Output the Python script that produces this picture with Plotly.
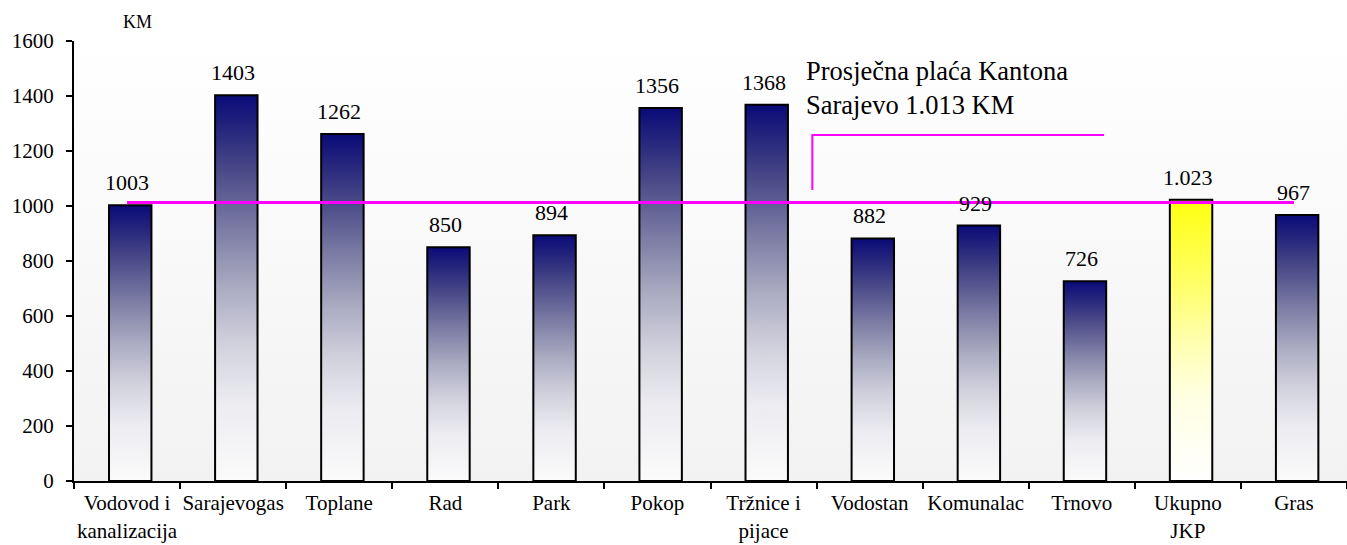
import plotly.graph_objects as go

# ---- data ----
categories = ["Vodovod i<br>kanalizacija", "Sarajevogas", "Toplane", "Rad", "Park", "Pokop",
              "Tržnice i<br>pijace", "Vodostan", "Komunalac", "Trnovo", "Ukupno<br>JKP", "Gras"]
values = [1003, 1403, 1262, 850, 894, 1356, 1368, 882, 929, 726, 1023, 967]
value_labels = ["1003", "1403", "1262", "850", "894", "1356", "1368", "882", "929", "726", "1.023", "967"]
highlight = ["Ukupno<br>JKP"]
average = 1013
average_text = "Prosječna plaća Kantona<br>Sarajevo 1.013 KM"
y_ticks = [0, 200, 400, 600, 800, 1000, 1200, 1400, 1600]
unit_label = "KM"

FONT = "'Liberation Serif', 'Times New Roman', 'DejaVu Serif', serif"
NAVY_SCALE = [[0, "#fbfbfb"], [0.2, "#ececf1"], [0.35, "#d2d2de"], [0.5, "#ababc2"],
              [0.65, "#7d7da5"], [0.8, "#4b4b89"], [0.9, "#2a2a7e"], [1, "#0a0a78"]]
YELLOW_SCALE = [[0, "#ffffff"], [0.3, "#ffffe2"], [0.5, "#ffffae"], [0.7, "#ffff68"], [1, "#ffff10"]]
MAGENTA = "#ff00ff"
half_w = 0.2
bar_shift = 0.03
n = len(categories)
xs = list(range(n))

fig = go.Figure()

# plot-area background gradient
fig.add_trace(go.Scatter(
    x=[-0.5, n - 0.5, n - 0.5, -0.5, -0.5], y=[0, 0, 1600, 1600, 0],
    mode="none", fill="toself",
    fillgradient=dict(type="vertical", colorscale=[[0, "#f2f2f2"], [1, "#ffffff"]], start=0, stop=1600),
    hoverinfo="skip", showlegend=False))

# bars with vertical gradient
for x, cat, v in zip(xs, categories, values):
    scale = YELLOW_SCALE if cat in highlight else NAVY_SCALE
    c = x + bar_shift
    fig.add_trace(go.Scatter(
        x=[c - half_w, c - half_w, c + half_w, c + half_w, c - half_w],
        y=[0, v, v, 0, 0],
        mode="lines", fill="toself",
        line=dict(color="black", width=2),
        fillgradient=dict(type="vertical", colorscale=scale, start=0, stop=v),
        hoverinfo="skip", showlegend=False))

# average line
fig.add_trace(go.Scatter(
    x=[xs[0], xs[-1]], y=[average, average], mode="lines",
    line=dict(color=MAGENTA, width=3), hoverinfo="skip", showlegend=False))

# callout bracket
fig.add_trace(go.Scatter(
    x=[6.46, 6.46, 9.21], y=[average + 45, 1258, 1258], mode="lines",
    line=dict(color=MAGENTA, width=2), hoverinfo="skip", showlegend=False))

# value labels
for x, v, t in zip(xs, values, value_labels):
    fig.add_annotation(x=x, y=v, text=t, showarrow=False, yanchor="bottom", yshift=8,
                       font=dict(family=FONT, size=22, color="black"))

fig.add_annotation(x=6.38, y=1545, xref="x", yref="y", text=average_text, showarrow=False,
                   xanchor="left", yanchor="top", align="left", yshift=2,
                   font=dict(family=FONT, size=26.5, color="black"))

fig.add_annotation(x=0.05, y=1.0, xref="paper", yref="paper", text=unit_label, showarrow=False,
                   xanchor="center", yanchor="bottom", yshift=7,
                   font=dict(family=FONT, size=18, color="black"))

fig.update_layout(
    width=1347, height=545,
    margin=dict(l=74, r=0, t=41, b=64),
    paper_bgcolor="white", plot_bgcolor="white",
    font=dict(family=FONT, size=21, color="black"),
    xaxis=dict(range=[-0.5, n - 0.5], tickmode="array", tickvals=xs, ticktext=categories,
               ticks="", showline=True, linecolor="black", linewidth=2, showgrid=False,
               zeroline=False, ticklabelstandoff=2, automargin=False,
               tickfont=dict(family=FONT, size=21),
               minor=dict(tickmode="array", tickvals=[i - 0.5 for i in range(n + 1)],
                          ticks="outside", ticklen=6, tickwidth=2, tickcolor="black", showgrid=False)),
    yaxis=dict(range=[0, 1600], tickmode="array", tickvals=y_ticks, ticks="outside", ticklen=6,
               tickwidth=2, tickcolor="black", showline=True, linecolor="black", linewidth=2,
               showgrid=False, zeroline=False, ticklabelstandoff=8, automargin=False,
               tickfont=dict(family=FONT, size=21)),
)

fig.write_html("out.html", config={"displayModeBar": False},
               post_script="document.body.style.margin='0';document.body.style.overflow='hidden';")
